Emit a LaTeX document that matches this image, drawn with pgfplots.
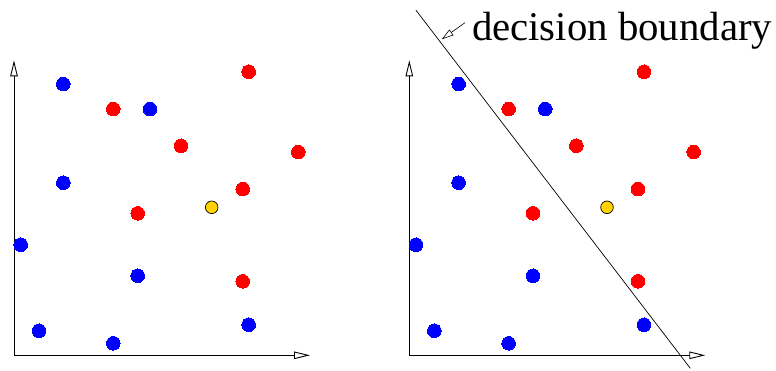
\documentclass[border=0pt]{standalone}
\usepackage{fontspec}
\setmainfont{Liberation Serif}
\usepackage{pgfplots}
\pgfplotsset{compat=1.18}
\usetikzlibrary{arrows.meta}
\definecolor{ptblue}{RGB}{0,0,255}
\definecolor{ptred}{RGB}{255,0,0}
\definecolor{ptyellow}{RGB}{255,210,0}

\pgfplotstableread{
x y
49.3 271.3
136 246.3
49.3 172.6
6.7 110.6
123.7 79.6
25 24.6
99.3 12
234.7 30.6
}\blueT
\pgfplotstableread{
x y
234.7 283.6
99.3 246.3
167 209.6
284.3 203.3
228.7 166.3
123.7 142
228.7 74
}\redT
\pgfplotstableread{
x y
197.7 148
}\yellowT

\pgfplotsset{
  panel/.style={
    x=1pt, y=1pt, xmin=0, xmax=296, ymin=0, ymax=295,
    axis lines=left,
    axis line style={line width=0.9pt, -{Triangle[open,length=16pt,width=7.5pt]}},
    xtick=\empty, ytick=\empty, clip=false, anchor=south west,
  },
  dots/.style={color=#1, only marks, mark=*, mark size=6.8pt, mark options={draw=#1, fill=#1, line width=0pt}},
}

\begin{document}
\begin{tikzpicture}
\begin{axis}[panel, at={(14pt,14.7pt)}]
  \addplot[dots=ptblue] table {\blueT};
  \addplot[dots=ptred] table {\redT};
  \addplot[black, only marks, mark=*, mark size=6.3pt, mark options={draw=black, line width=0.7pt, fill=ptyellow}] table {\yellowT};
\end{axis}
\begin{axis}[panel, at={(409.3pt,14.7pt)}]
  \addplot[dots=ptblue] table {\blueT};
  \addplot[dots=ptred] table {\redT};
  \addplot[black, only marks, mark=*, mark size=6.3pt, mark options={draw=black, line width=0.7pt, fill=ptyellow}] table {\yellowT};
  \addplot[black, line width=0.7pt, no marks] coordinates {(6.7,345) (281,-13)};
  \draw[line width=0.6pt, -{Triangle[open,length=12pt,width=7pt]}] (axis cs:55.7,332.6) -- (axis cs:32.4,316);
  \node[anchor=base west, inner sep=0pt, font=\fontsize{40.8}{46}\selectfont] at (axis cs:62.5,314.6) {decision boundary};
\end{axis}
\pgfresetboundingbox
\path (0,0) rectangle (776pt,370pt);
\end{tikzpicture}
\end{document}
